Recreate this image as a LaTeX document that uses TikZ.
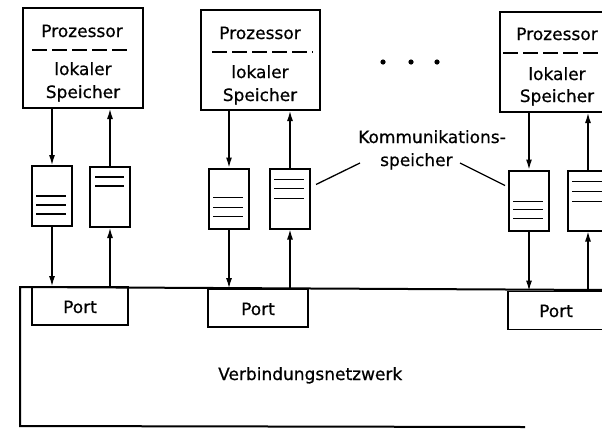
\documentclass[tikz,border=0pt]{standalone}
\usepackage{fontspec}
\setmainfont[FakeBold=0.6]{DejaVu Sans}
\usetikzlibrary{arrows.meta,calc}
\begin{document}
\begin{tikzpicture}[x=1pt,y=-1pt,
  procbox/.style={draw,line width=2pt,minimum height=100pt,inner sep=0pt},
  membox/.style={draw,line width=2pt,minimum width=40pt,minimum height=60pt,inner sep=0pt},
  portbox/.style={draw,line width=1.8pt,minimum height=38pt,inner sep=0pt},
  lbl/.style={font=\fontsize{17}{20}\selectfont,inner sep=0pt,anchor=base},
  arr/.style={line width=1.2pt,-{Latex[length=10pt,width=6pt]}},
  sep/.style={line width=1.6pt,dash pattern=on 15pt off 5pt},
  bar/.style={line width=1.7pt},
  lead/.style={line width=1.3pt}]
\useasboundingbox (0,0) rectangle (602,429);
\clip (0,0) rectangle (602,429);
\fill[white] (0,0) rectangle (602,429);

% processors with local memory
\node[procbox,minimum width=120pt] (p1) at (83,58) {};
\node[procbox,minimum width=119pt] (p2) at (260.5,60) {};
\node[procbox,minimum width=116pt] (p3) at (558,62) {};

\node[lbl] (p1a) at (82,37) {Prozessor};
\draw[sep] (32,50) -- (131,50);
\node[lbl] (p1b) at (83,75) {lokaler};
\node[lbl] (p1c) at (83,98) {Speicher};

\node[lbl] (p2a) at (260,39) {Prozessor};
\draw[sep] (212,52) -- (313,52);
\node[lbl] (p2b) at (260,78) {lokaler};
\node[lbl] (p2c) at (260,101) {Speicher};

\node[lbl] (p3a) at (557,40) {Prozessor};
\draw[sep] (503,53) -- (604,53);
\node[lbl] (p3b) at (557,80) {lokaler};
\node[lbl] (p3c) at (557,102) {Speicher};

% further processors
\foreach \x in {383,411,437} \fill (\x,62) circle (2.6pt);

% communication memories
\node[membox] (mA) at (52,196) {};
\node[membox] (mB) at (110,197) {};
\node[membox] (mC) at (229,198.5) {};
\node[membox] (mD) at (290,198.5) {};
\node[membox] (mE) at (529,200.5) {};
\node[membox] (mF) at (588,200.5) {};

\foreach \n/\a/\b/\c in {mA/31/40/49, mC/30/40/49, mE/32/40/49} {
  \foreach \d in {\a,\b,\c}
    \draw[bar] ($(\n.north west)+(5,\d)$) -- ($(\n.north east)+(-7,\d)$);
}
\foreach \d in {11,20}
  \draw[bar] ($(mB.north west)+(6,\d)$) -- ($(mB.north east)+(-7,\d)$);
\foreach \n/\a/\b/\c in {mD/12/21/31, mF/12/22/32} {
  \foreach \d in {\a,\b,\c}
    \draw[bar] ($(\n.north west)+(5,\d)$) -- ($(\n.north east)+(-7,\d)$);
}

% interconnection network with ports
\node[portbox,minimum width=96pt] (q1) at (80,306) {};
\node[portbox,minimum width=100pt] (q2) at (258,308) {};
\node[portbox,minimum width=100pt] (q3) at (558,310.5) {};
\node[lbl] at (q1.center |- 0,313) {Port};
\node[lbl] at (q2.center |- 0,315) {Port};
\node[lbl] at (556,317) {Port};

\coordinate (nw) at (20,287);
\draw[line width=2pt] (604,290) -- (nw) -- (20,426) -- (525,427);
\node[lbl,anchor=base west] (net) at (218,380) {Verbindungsnetzwerk};

% data paths
\draw[arr] (p1.south -| mA.north) -- (mA.north);
\draw[arr] (mB.north) -- (p1.south -| mB.north);
\draw[arr] (mA.south) -- (mA.south |- q1.north);
\draw[arr] (mB.south |- q1.north) -- (mB.south);

\draw[arr] (p2.south -| mC.north) -- (mC.north);
\draw[arr] (mD.north) -- (p2.south -| mD.north);
\draw[arr] (mC.south) -- (mC.south |- q2.north);
\draw[arr] (mD.south |- q2.north) -- (mD.south);

\draw[arr] (p3.south -| mE.north) -- (mE.north);
\draw[arr] (mF.north) -- (p3.south -| mF.north);
\draw[arr] (mE.south) -- (mE.south |- q3.north);
\draw[arr] (mF.south |- q3.north) -- (mF.south);

% label for the communication memories
\node[lbl,anchor=base west] (k1) at (358,143) {Kommunikations-};
\node[lbl,anchor=base west] (k2) at (380,166) {speicher};
\coordinate (kl) at (360,163);
\coordinate (kr) at (460,163);
\draw[lead] (kl) -- ($(mD.east)+(5,-14)$);
\draw[lead] (kr) -- ($(mE.west)+(-3,-15)$);
\end{tikzpicture}
\end{document}
